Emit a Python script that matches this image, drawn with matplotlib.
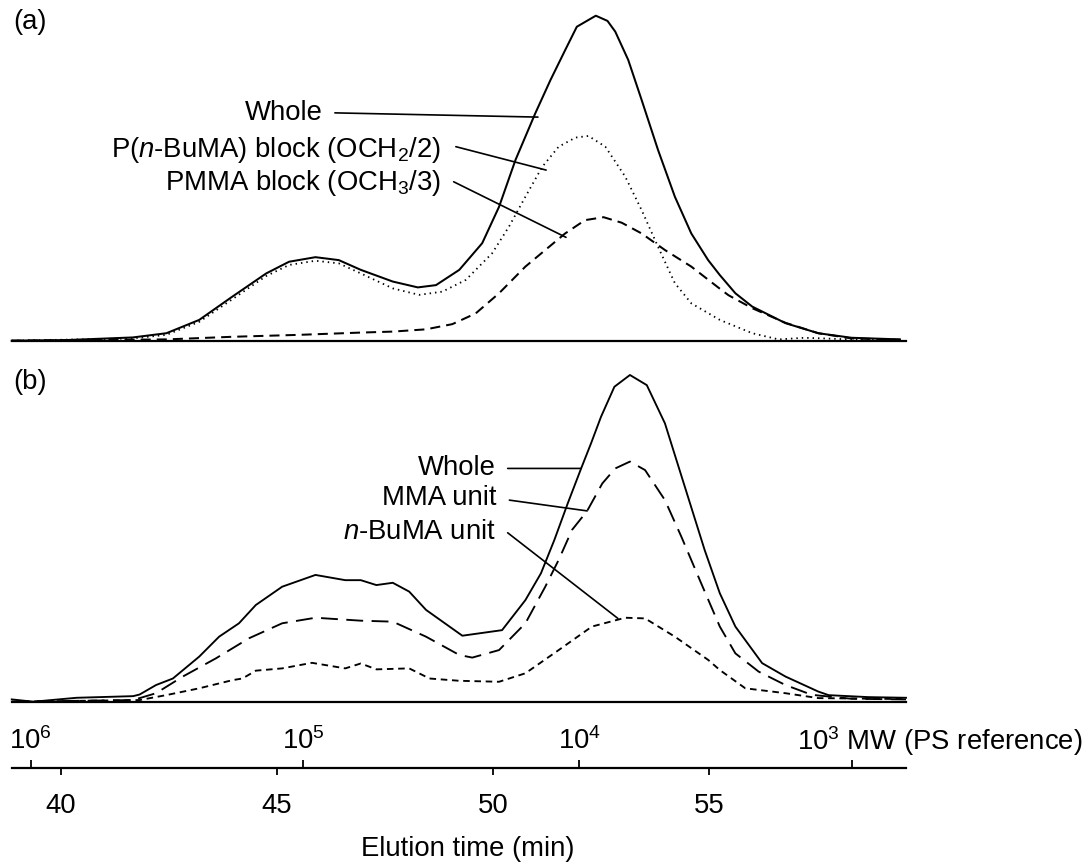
import matplotlib
matplotlib.use("Agg")
import matplotlib.pyplot as plt

plt.rcParams["font.family"] = ["Liberation Sans", "DejaVu Sans"]
plt.rcParams["mathtext.fontset"] = "custom"
plt.rcParams["mathtext.rm"] = "Liberation Sans"
plt.rcParams["mathtext.it"] = "Liberation Sans:italic"
plt.rcParams["mathtext.bf"] = "Liberation Sans:bold"

# ---- panel (a): elution time (min) vs relative intensity ----
a_whole_t = [38.86, 40.13, 41.66, 42.44, 43.20, 43.96, 44.75, 45.28, 45.89, 46.43,
             46.94, 47.68, 48.26, 48.68, 49.22, 49.75, 50.14, 50.52, 50.98, 51.33,
             51.67, 51.94, 52.38, 52.65, 52.83, 53.13, 53.44, 53.82, 54.21, 54.59,
             54.98, 55.25, 55.61, 56.00, 56.77, 57.53, 58.30, 59.42]
a_whole_v = [0.0, 0.2, 1.0, 2.3, 6.4, 13.5, 20.7, 24.3, 25.7, 24.8,
             21.8, 18.2, 16.4, 17.1, 21.8, 30.0, 41.2, 55.6, 70.0, 80.2,
             89.4, 96.6, 100.0, 98.4, 95.1, 86.4, 74.1, 58.7, 44.3, 33.0,
             24.8, 20.2, 14.6, 10.5, 5.4, 2.3, 0.9, 0.4]

a_bu_t = [38.86, 41.66, 42.44, 43.20, 43.96, 44.75, 45.28, 45.89, 46.43, 46.94,
          47.68, 48.29, 48.83, 49.37, 49.98, 50.37, 50.75, 51.14, 51.52, 51.91,
          52.21, 52.60, 53.06, 53.44, 53.82, 54.21, 54.59, 55.25, 56.00, 56.61,
          57.20, 58.30, 59.42]
a_bu_v = [0.0, 0.7, 1.8, 5.8, 12.7, 19.9, 23.3, 24.6, 23.8, 20.7,
          16.1, 14.1, 15.1, 18.7, 26.9, 35.1, 44.3, 53.5, 59.7, 62.5,
          63.0, 59.7, 50.5, 40.2, 28.9, 17.7, 11.5, 6.4, 2.3, 0.4,
          0.9, 0.4, 0.0]

a_mma_t = [38.86, 42.44, 43.96, 45.51, 46.94, 47.68, 48.45, 49.06, 49.60, 50.14,
           50.75, 51.21, 51.67, 52.13, 52.56, 52.98, 53.44, 53.98, 54.59, 55.25,
           55.45, 56.00, 56.77, 57.53, 58.30, 59.42]
a_mma_v = [0.0, 0.4, 1.2, 1.8, 2.5, 2.8, 3.5, 5.1, 8.4, 14.6,
           22.8, 27.9, 33.0, 37.1, 38.0, 36.3, 33.0, 27.9, 22.8, 16.0,
           14.0, 10.0, 5.5, 2.3, 0.7, 0.3]

# ---- panel (b) ----
b_whole_t = [38.86, 39.36, 40.36, 41.67, 41.82, 42.20, 42.59, 43.20, 43.66, 44.12,
             44.51, 45.12, 45.89, 46.58, 46.94, 47.30, 47.68, 48.06, 48.45, 49.29,
             50.21, 50.75, 51.11, 51.42, 51.73, 52.04, 52.27, 52.50, 52.81, 53.17,
             53.56, 53.98, 54.44, 54.90, 55.25, 55.61, 56.23, 56.77, 57.53, 57.77,
             58.69, 59.56]
b_whole_v = [0.7, 0.0, 1.2, 1.7, 2.2, 5.1, 7.1, 13.8, 19.9, 24.0,
             29.6, 35.2, 38.8, 37.2, 37.2, 35.7, 36.4, 33.7, 28.1, 20.2,
             21.9, 31.1, 39.3, 49.5, 60.7, 71.4, 79.1, 87.2, 96.4, 100.0,
             96.9, 85.2, 65.8, 46.4, 33.2, 23.0, 11.8, 7.7, 3.1, 2.0,
             1.4, 1.2]

b_mma_t = [38.86, 41.67, 42.20, 42.82, 43.59, 44.35, 45.12, 45.89, 46.94, 47.68,
           48.45, 49.22, 49.52, 50.14, 50.75, 51.21, 51.52, 51.83, 52.18, 52.53,
           52.83, 53.17, 53.52, 53.98, 54.36, 54.82, 55.25, 55.61, 56.15, 56.77,
           57.38, 58.30, 59.56]
b_mma_v = [0.0, 0.5, 2.6, 7.7, 13.3, 19.4, 24.0, 25.7, 24.8, 24.5,
           19.9, 14.3, 13.5, 15.8, 24.0, 35.2, 43.4, 52.6, 58.4, 66.8,
           71.4, 73.5, 70.9, 61.7, 50.5, 36.2, 23.0, 14.8, 9.2, 5.1,
           2.1, 0.9, 0.7]

b_bu_t = [38.86, 41.82, 42.43, 43.20, 43.97, 44.20, 44.51, 45.12, 45.81, 46.58,
          46.94, 47.30, 48.06, 48.53, 49.22, 50.14, 50.75, 51.52, 52.29, 53.06,
          53.52, 54.21, 54.98, 55.25, 55.84, 56.77, 57.53, 59.56]
b_bu_v = [0.0, 0.5, 2.0, 4.1, 6.6, 7.1, 9.5, 10.2, 11.9, 10.2,
          11.7, 9.9, 10.2, 7.1, 6.4, 6.1, 8.7, 15.8, 23.0, 25.7,
          25.5, 19.9, 12.8, 9.7, 4.1, 2.6, 1.1, 0.8]

# ---- bottom scales ----
time_ticks = [40, 45, 50, 55]
mw_ticks = [39.3, 45.6, 52.0, 58.3]
mw_labels = ["$10^6$", "$10^5$", "$10^4$", ""]

XLIM = (38.866, 59.56)
FS = 19.8
W_PX, H_PX = 1084, 866
SCALE_Y = 768  # pixel row of the combined time / MW axis line


def frame(bottom_px, height_px):
    return [12 / W_PX, 1 - bottom_px / H_PX, 894 / W_PX, height_px / H_PX]


def clean(ax):
    ax.set_xlim(*XLIM)
    ax.set_ylim(0, 100)
    for side in ("top", "left", "right"):
        ax.spines[side].set_visible(False)
    ax.spines["bottom"].set_linewidth(1.6)
    ax.set_xticks([])
    ax.set_yticks([])
    ax.patch.set_visible(False)


def leader(ax, text, text_xy, start, end):
    ax.text(text_xy[0], text_xy[1], text, ha="right", va="center", fontsize=FS)
    ax.annotate("", xy=end, xytext=start,
                arrowprops=dict(arrowstyle="-", lw=1.2, color="black",
                                shrinkA=0, shrinkB=0))


fig = plt.figure(figsize=(W_PX / 100, H_PX / 100), dpi=100)

ax_a = fig.add_axes(frame(340.7, 325))
clean(ax_a)
ax_a.plot(a_whole_t, a_whole_v, color="black", lw=1.45, clip_on=False,
          solid_joinstyle="round")
ax_a.plot(a_bu_t, a_bu_v, color="black", lw=1.3, ls=(0, (0.8, 2.2)), clip_on=False)
ax_a.plot(a_mma_t, a_mma_v, color="black", lw=1.45, ls=(0, (5, 3)), clip_on=False)
leader(ax_a, "Whole", (46.06, 70.1), (46.34, 70.1), (51.04, 68.8))
leader(ax_a, "P($\\mathit{n}$-BuMA) block (OCH$_2$/2)", (48.80, 58.7),
       (49.14, 59.7), (51.23, 52.5))
leader(ax_a, "PMMA block (OCH$_3$/3)", (48.80, 48.5), (49.09, 48.9), (51.69, 31.8))

ax_b = fig.add_axes(frame(701.7, 326.7))
clean(ax_b)
ax_b.plot(b_whole_t, b_whole_v, color="black", lw=1.35, clip_on=False,
          solid_joinstyle="round")
ax_b.plot(b_mma_t, b_mma_v, color="black", lw=1.35, ls=(0, (9, 4.5)), clip_on=False)
ax_b.plot(b_bu_t, b_bu_v, color="black", lw=1.35, ls=(0, (3.5, 2.5)), clip_on=False)
leader(ax_b, "Whole", (50.07, 71.4), (50.34, 71.4), (52.04, 71.4))
leader(ax_b, "MMA unit", (50.07, 62.3), (50.38, 61.7), (52.18, 58.4))
leader(ax_b, "$\\mathit{n}$-BuMA unit", (50.07, 52.0), (50.34, 51.7), (52.89, 25.5))

fig.text(13 / W_PX, 1 - 22 / H_PX, "(a)", fontsize=FS, va="center")
fig.text(13 / W_PX, 1 - 382 / H_PX, "(b)", fontsize=FS, va="center")

# bottom combined axis: elution time below, MW (PS reference) above
ax_s = fig.add_axes(frame(SCALE_Y, 0.4))
ax_s.set_xlim(*XLIM)
for side in ("top", "left", "right"):
    ax_s.spines[side].set_visible(False)
ax_s.spines["bottom"].set_linewidth(1.6)
ax_s.set_yticks([])
ax_s.set_xticks(time_ticks)
ax_s.set_xticklabels([str(t) for t in time_ticks], fontsize=FS)
ax_s.tick_params(axis="x", direction="out", length=5, width=1.3, pad=13)
ax_s.patch.set_visible(False)

ax_m = ax_s.twiny()
ax_m.set_xlim(*XLIM)
for side in ("top", "bottom", "left", "right"):
    ax_m.spines[side].set_visible(False)
ax_m.set_xticks(mw_ticks)
ax_m.set_xticklabels(mw_labels, fontsize=FS)
ax_m.tick_params(axis="x", direction="out", length=5.8, width=1.3, pad=3)

fig.text(797 / W_PX, 1 - (SCALE_Y - 18.5) / H_PX, "$10^3$ MW (PS reference)",
         fontsize=FS, ha="left", va="baseline")
fig.text(468 / W_PX, 1 - 849 / H_PX, "Elution time (min)", fontsize=FS,
         ha="center", va="center")

fig.savefig("out.png", dpi=100)
